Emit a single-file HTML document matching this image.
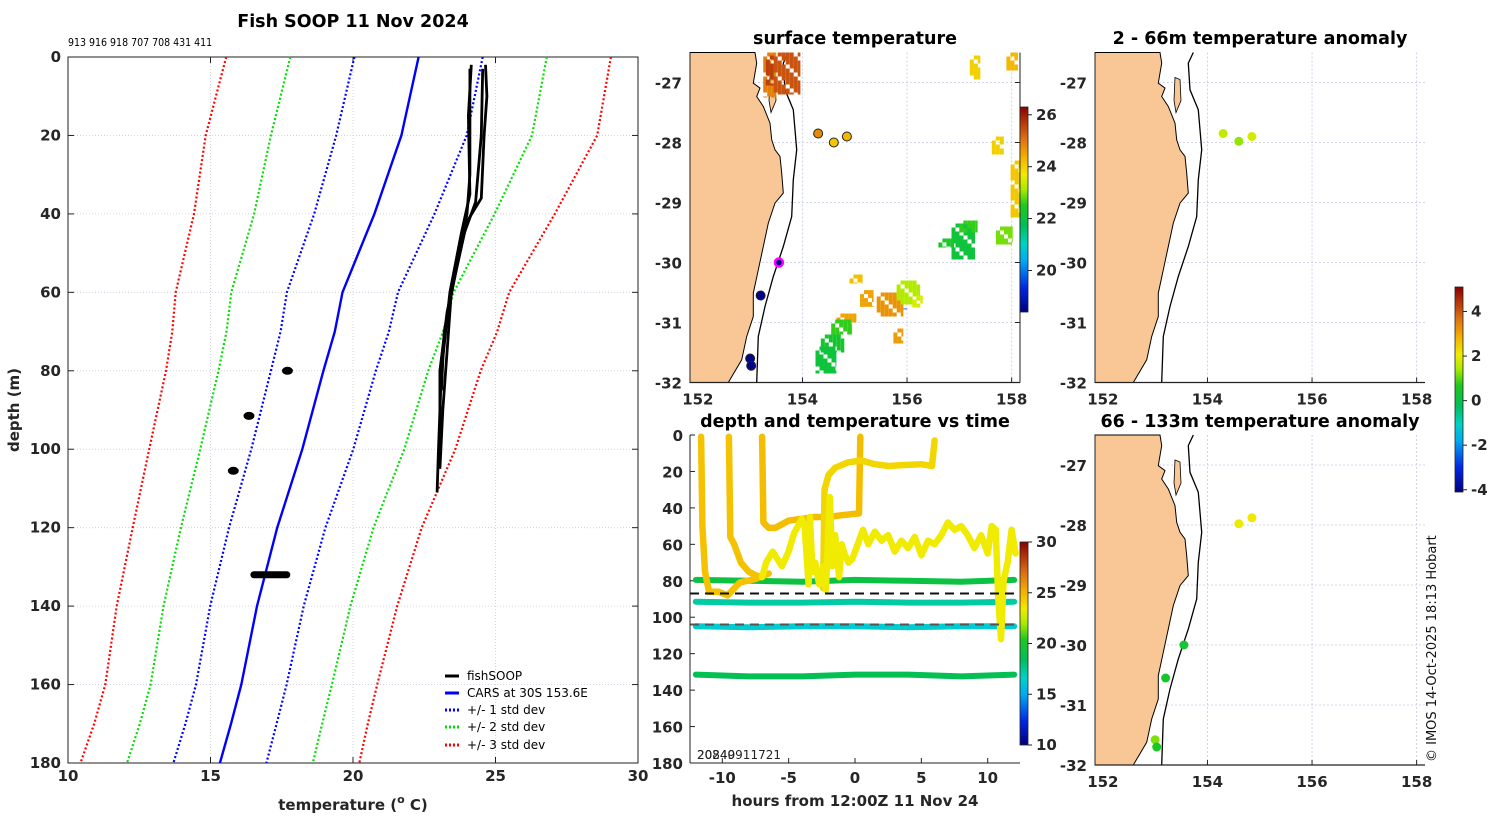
<!DOCTYPE html>
<html><head><meta charset="utf-8"><style>
html,body{margin:0;padding:0;background:#fff;}
svg{display:block;font-family:"DejaVu Sans","Liberation Sans",sans-serif;}
.tk{font-size:15px;font-weight:bold;fill:#262626;}
.tt{font-size:17.5px;font-weight:bold;fill:#000;}
</style></head><body>
<svg id="fig" width="1500" height="820" viewBox="0 0 1500 820" xmlns="http://www.w3.org/2000/svg">
<text class="tt" x="353" y="27" text-anchor="middle">Fish SOOP 11 Nov 2024</text>
<text x="68" y="46" font-size="10.5" font-family="DejaVu Sans Condensed, DejaVu Sans, sans-serif">913 916 918 707 708 431 411</text>
<text class="tk" x="353" y="810" text-anchor="middle" font-size="17.5">temperature (<tspan font-size="11" dy="-7">o</tspan><tspan dy="7"> C)</tspan></text>
<text class="tk" transform="translate(19,410) rotate(-90)" text-anchor="middle" font-size="17">depth (m)</text>
<text class="tt" x="855" y="44" text-anchor="middle">surface temperature</text>
<text class="tt" x="855" y="427" text-anchor="middle">depth and temperature vs time</text>
<text class="tk" x="855" y="806" text-anchor="middle" font-size="17">hours from 12:00Z 11 Nov 24</text>
<text class="tt" x="1260" y="44" text-anchor="middle">2 - 66m temperature anomaly</text>
<text class="tt" x="1260" y="427" text-anchor="middle">66 - 133m temperature anomaly</text>
<text transform="translate(1436,762) rotate(-90)" font-size="13" fill="#111">© IMOS 14-Oct-2025 18:13 Hobart</text>
<text x="697" y="759" font-size="12" fill="#222">20849</text>
<text x="697" y="759" font-size="12" fill="#222">20240911721</text>
<g id="legend">
<line x1="445" y1="676" x2="459" y2="676" stroke="#000" stroke-width="3"/>
<text x="467" y="680" font-size="12">fishSOOP</text>
<line x1="445" y1="693" x2="459" y2="693" stroke="#0000ff" stroke-width="3"/>
<text x="467" y="697" font-size="12">CARS at 30S 153.6E</text>
<line x1="445" y1="710" x2="459" y2="710" stroke="#0000ff" stroke-width="3" stroke-dasharray="2,2"/>
<text x="467" y="714" font-size="12">+/- 1 std dev</text>
<line x1="445" y1="727" x2="459" y2="727" stroke="#00e000" stroke-width="3" stroke-dasharray="2,2"/>
<text x="467" y="731" font-size="12">+/- 2 std dev</text>
<line x1="445" y1="745" x2="459" y2="745" stroke="#ff0000" stroke-width="3" stroke-dasharray="2,2"/>
<text x="467" y="749" font-size="12">+/- 3 std dev</text>
</g>
</svg>
<script>
// ---------- data ----------
const carsDepths=[0,20,40,60,70,80,100,120,140,160,170,180];
const carsMean=[22.3,21.7,20.75,19.63,19.36,18.96,18.22,17.34,16.63,16.08,15.72,15.33];
const carsSd=[2.25,2.29,2.11,1.95,1.9,1.84,1.79,1.69,1.64,1.59,1.6,1.63];
const fish1=[[2,24.15],[15,24.05],[35,24.1],[45,23.8],[60,23.4],[80,23.1],[100,23.0],[111,22.95]];
const fish2=[[2,24.65],[10,24.7],[20,24.6],[36,24.5],[42,24.0],[60,23.45],[75,23.3],[90,23.15],[105,23.05]];
const fish3=[[3,24.1],[30,24.1],[40,24.0],[55,23.6],[70,23.2],[85,23.1]];
const fish4=[[3,24.55],[20,24.5],[37,24.3],[45,23.9],[65,23.3],[80,23.05],[95,23.05]];
const fishBlobs=[[17.7,80],[16.35,91.5],[15.8,105.5]];
const fishBar=[16.4,17.8,132];
const tempTicks=[10,15,20,25,30];
const depthTicks=[0,20,40,60,80,100,120,140,160,180];
// map
const lonTicks=[152,154,156,158];
const latTicks=[-27,-28,-29,-30,-31,-32];
const coastPx=[[0,0],[65,0],[66.7,10.6],[63.3,30.6],[70,35.6],[66.7,44],[73.3,54],[80,70.6],[81.7,87.3],[85,97.3],[90,104],[91.7,120.6],[93.3,140.6],[85,150.6],[78.3,170.6],[73.3,194],[68.3,217.3],[63.3,240.6],[63.3,264],[56.7,284],[51.7,307.3],[38.3,330],[0,330]];
const islandPx=[[80,25],[85,27],[86,48],[81,60],[79,48]];
const shelfPx=[[98.3,0],[93.3,10.6],[95,37.3],[103.3,57.3],[106.7,97.3],[103.3,127.3],[101.7,164],[93.3,194],[83.3,224],[75,254],[68.3,284],[66.7,330]];
// SST patches [lon0,lon1,latTop,latBottom,temp]
const sstPatches=[[153.25,153.5,-26.5,-27.25,24.9],[153.45,153.96,-26.5,-27.2,25.4],[153.3,153.45,-26.55,-27.05,25.6],
[157.2,157.4,-26.55,-26.95,24.0],[157.9,158.12,-26.5,-26.8,24.3],[157.62,157.85,-27.9,-28.2,24.0],[157.98,158.15,-28.3,-29.25,24.1],
[156.85,157.3,-29.35,-29.95,22.1],[156.6,156.9,-29.6,-29.75,22.4],[157.7,158.02,-29.4,-29.7,22.9],[157.0,157.35,-29.3,-29.5,22.6],
[155.1,155.36,-30.46,-30.74,24.5],[155.42,155.93,-30.5,-30.9,24.7],[155.8,156.25,-30.3,-30.7,23.2],[154.65,155.04,-30.85,-31.0,24.5],
[154.55,154.95,-30.95,-31.2,22.6],[154.35,154.8,-31.2,-31.5,22.3],[154.25,154.65,-31.4,-31.85,22.1],[155.74,155.93,-31.1,-31.35,24.6],
[154.9,155.15,-30.2,-30.35,24.2],[156.1,156.3,-30.55,-30.75,23.5],[155.93,156.0,-30.7,-30.78,19.5]];
const sstDots=[[154.3,-27.85,24.8],[154.6,-28.0,24.1],[154.85,-27.9,24.3],[153.2,-30.55,18.5],[153.0,-31.6,18.5],[153.02,-31.72,18.5]];
const sstTrack=[153.55,-30.0,18.5];
const anomTopDots=[[154.3,-27.85,1.6],[154.6,-27.98,1.3],[154.85,-27.9,1.8]];
const anomBotDots=[[154.6,-27.98,2.0],[154.85,-27.88,2.1],[153.55,-30.0,0.4],[153.2,-30.55,0.5],[153.0,-31.58,1.2],[153.03,-31.7,0.6]];
// time plot
const hourTicks=[-10,-5,0,5,10];
const tDepthTicks=[0,20,40,60,80,100,120,140,160,180];
const trace1=[[-11.6,1],[-11.5,50],[-11.3,75],[-11.0,86],[-10.3,86],[-9.6,88],[-8.7,81],[-7.5,79],[-6.5,76]];
const trace2=[[-9.5,1],[-9.4,56],[-9.1,60],[-8.6,70],[-8.0,75],[-7.5,77],[-7.0,78]];
const trace3=[[-7.0,1],[-6.9,48],[-6.5,51],[-6,51],[-5,47],[-4,46],[-3,45],[-2,45],[-1,44],[0.3,43],[0.4,1]];
const trace4=[[-2.4,84],[-2.3,30],[-2.0,22],[-1.5,18],[-0.5,15],[0.5,14],[1.5,16],[2.5,17],[3.5,16.5],[5,16],[5.8,17],[6.0,3]];
const trace5=[[-7,78],[-6.7,70],[-6.2,64],[-5.5,72],[-5,64],[-4.6,54],[-4,46],[-3.8,50],[-3.5,82],[-3.4,45],[-3.2,75],[-3.0,70],[-2.7,82],[-2.4,72],[-2.2,85],[-1.9,34],[-1.7,72],[-1.5,55],[-1.2,78],[-1.0,60],[-0.8,65],[-0.5,70],[-0.2,68],[0.2,60],[0.6,52],[1.0,60],[1.5,53],[2.0,58],[2.5,55],[3,64],[3.5,58],[4,62],[4.5,56],[5,66],[5.5,58],[6,60],[6.5,55],[7,48],[7.5,52],[8,50],[8.5,55],[9,62],[9.5,55],[10,65],[10.3,50],[10.6,52],[10.8,90],[11.0,112],[11.2,80],[11.5,70],[11.8,52],[12.1,65]];
const traceTemps=[24.6,24.6,24.7,24.0,23.4];
const levelHours=[-12,-8,-4,0,4,8,12];
const level80=[79.5,80,80.5,79.5,80,80.5,79.5];
const level92=[91.5,92,92,91.5,92,92,91.5];
const level105=[105,105.5,105,105,105.5,105,105];
const level132=[131.5,132.5,132.5,131.5,131.5,132.5,131.5];
const levelTemps=[19.2,17.2,16.3,18.6];
const dashDepths=[87,104];

// ---------- helpers ----------
const NS='http://www.w3.org/2000/svg';
const svg=document.getElementById('fig');
function mk(tag,attrs,parent){const e=document.createElementNS(NS,tag);for(const k in attrs)e.setAttribute(k,attrs[k]);(parent||svg).appendChild(e);return e;}
const stops=[[0,[0,0,128]],[0.12,[0,40,230]],[0.25,[0,170,240]],[0.33,[0,210,200]],[0.42,[0,190,90]],[0.52,[30,200,30]],[0.6,[170,235,0]],[0.67,[240,235,0]],[0.75,[245,180,0]],[0.85,[220,110,20]],[1,[140,0,0]]];
function cmap(t){t=Math.max(0,Math.min(1,t));for(let i=1;i<stops.length;i++){if(t<=stops[i][0]){const a=stops[i-1],b=stops[i];const f=(t-a[0])/(b[0]-a[0]);const c=a[1].map((v,j)=>Math.round(v+(b[1][j]-v)*f));return 'rgb('+c.join(',')+')';}}return 'rgb(140,0,0)';}
const defs=mk('defs',{});
const grad=mk('linearGradient',{id:'cbar',x1:0,y1:1,x2:0,y2:0},defs);
for(const s of stops){mk('stop',{offset:s[0],'stop-color':cmap(s[0])},grad);}
function colorbar(x,y0,y1,lo,hi,ticks,name){
  const r=mk('rect',{x:x,y:y0,width:8,height:y1-y0,fill:'url(#cbar)',stroke:'#222','stroke-width':0.8});
  
  
  for(const t of ticks){const y=y1-(t-lo)/(hi-lo)*(y1-y0);
    mk('line',{x1:x+8,y1:y,x2:x+12,y2:y,stroke:'#222'});
    const tx=mk('text',{x:x+16,y:y+5,class:'tk','font-size':'12.5'});tx.textContent=t;
    
    }
}

// ---------- profile panel ----------
const PX0=68,PX1=638,PY0=57,PY1=763;
const xT=T=>PX0+(T-10)*(PX1-PX0)/20;
const yD=d=>PY0+d*(PY1-PY0)/180;
for(const t of tempTicks){const x=xT(t);
  if(t>10&&t<30)mk('line',{x1:x,y1:PY0,x2:x,y2:PY1,stroke:'#c9c9dd','stroke-width':0.8,'stroke-dasharray':'1,2'});
  mk('line',{x1:x,y1:PY1,x2:x,y2:PY1-6,stroke:'#222'});mk('line',{x1:x,y1:PY0,x2:x,y2:PY0+6,stroke:'#222'});
  const l=mk('text',{x:x,y:PY1+18,class:'tk','text-anchor':'middle'});l.textContent=t;
  
  }
for(const d of depthTicks){const y=yD(d);
  if(d>0&&d<180)mk('line',{x1:PX0,y1:y,x2:PX1,y2:y,stroke:'#c9c9dd','stroke-width':0.8,'stroke-dasharray':'1,2'});
  mk('line',{x1:PX0,y1:y,x2:PX0+6,y2:y,stroke:'#222'});mk('line',{x1:PX1,y1:y,x2:PX1-6,y2:y,stroke:'#222'});
  const l=mk('text',{x:PX0-7,y:y+5,class:'tk','text-anchor':'end'});l.textContent=d;
  
  }
const pbox=mk('rect',{x:PX0,y:PY0,width:PX1-PX0,height:PY1-PY0,fill:'none',stroke:'#222','stroke-width':1});


function profLine(k,color,dash,name){
  const pts=carsDepths.map((d,i)=>xT(carsMean[i]+k*carsSd[i]).toFixed(1)+','+yD(d).toFixed(1)).join(' ');
  const a={points:pts,fill:'none',stroke:color,'stroke-width':dash?2.2:2.4};if(dash)a['stroke-dasharray']='2,2.2';
  const p=mk('polyline',a);
  
  
}
profLine(-3,'#ff0000',1,'cars-minus-3sd');profLine(3,'#ff0000',1,'cars-plus-3sd');
profLine(-2,'#00e000',1,'cars-minus-2sd');profLine(2,'#00e000',1,'cars-plus-2sd');
profLine(-1,'#0000ff',1,'cars-minus-1sd');profLine(1,'#0000ff',1,'cars-plus-1sd');
profLine(0,'#0000ff',0,'cars-mean');
for(const f of [fish1,fish2,fish3,fish4]){
  const p=mk('polyline',{points:f.map(q=>xT(q[1]).toFixed(1)+','+yD(q[0]).toFixed(1)).join(' '),fill:'none',stroke:'#000','stroke-width':2.8,'stroke-linejoin':'round'});
  
  }
for(const b of fishBlobs){const e=mk('ellipse',{cx:xT(b[0]),cy:yD(b[1]),rx:5.5,ry:4,fill:'#000'});
  
  }
const fb=mk('rect',{x:xT(fishBar[0]),y:yD(fishBar[2])-3.5,width:xT(fishBar[1])-xT(fishBar[0]),height:7,rx:3.5,fill:'#000'});



// ---------- maps ----------
const MW=330,MH=330;
function map(x0,y0,name,showCbarEdge){
  const lx=lon=>x0+(lon-151.85)*52.3, ly=lat=>y0+(-26.5-lat)*60;
  const g=mk('g',{});
  
  
  for(const lo of lonTicks){const x=lx(lo);
    if(lo>152)mk('line',{x1:x,y1:y0,x2:x,y2:y0+MH,stroke:'#c4c8e4','stroke-width':0.8,'stroke-dasharray':'2,2'},g);
    mk('line',{x1:x,y1:y0+MH,x2:x,y2:y0+MH-5,stroke:'#222'},g);
    const l=mk('text',{x:x,y:y0+MH+22,class:'tk','text-anchor':'middle'},g);l.textContent=lo;
    
    }
  for(const la of latTicks){const y=ly(la);
    if(la>-32)mk('line',{x1:x0,y1:y,x2:x0+MH,y2:y,stroke:'#c4c8e4','stroke-width':0.8,'stroke-dasharray':'2,2'},g);
    if(showCbarEdge)mk('line',{x1:x0+MW,y1:y,x2:x0+MW-5,y2:y,stroke:'#222'},g);
    const l=mk('text',{x:x0-8,y:y+6,class:'tk','text-anchor':'end'},g);l.textContent=la;
    
    }
  const land=mk('polygon',{points:coastPx.map(p=>(x0+p[0])+','+(y0+p[1])).join(' '),fill:'#f9c796',stroke:'#000','stroke-width':1},g);
  
  
  const isl=mk('polygon',{points:islandPx.map(p=>(x0+p[0])+','+(y0+p[1])).join(' '),fill:'#f9c796',stroke:'#000','stroke-width':0.8},g);
  
  
  const sh=mk('polyline',{points:shelfPx.map(p=>(x0+p[0])+','+(y0+p[1])).join(' '),fill:'none',stroke:'#000','stroke-width':1.3},g);
  
  
  mk('line',{x1:x0,y1:y0+MH,x2:x0+MW,y2:y0+MH,stroke:'#222','stroke-width':1.2},g);
  mk('line',{x1:x0,y1:y0,x2:x0,y2:y0+MH,stroke:'#222','stroke-width':1},g);
  if(showCbarEdge)mk('line',{x1:x0+MW,y1:y0,x2:x0+MW,y2:y0+MH,stroke:'#222','stroke-width':1},g);
  return {lx,ly,g};
}
// SST map
const m1=map(690,52.5,'sst-map',true);
const sLo=18.4,sHi=26.3;
const CELL=4;
for(const p of sstPatches){
  const x0=m1.lx(p[0]),x1=m1.lx(p[1]),y0=m1.ly(p[2]),y1=m1.ly(p[3]);
  const col=cmap((p[4]-sLo)/(sHi-sLo));
  const pg=mk('g',{fill:col},m1.g);
  
  
  let i=0;
  for(let x=x0;x<x1-0.5;x+=CELL){let j=0;
    for(let y=y0;y<y1-0.5;y+=CELL){
      if((i*7+j*3)%5!==0){mk('rect',{x:x.toFixed(1),y:y.toFixed(1),width:Math.min(CELL,x1-x).toFixed(1),height:Math.min(CELL,y1-y).toFixed(1)},pg);}
      j++;}
    i++;}
}
for(const d of sstDots){const c=mk('circle',{cx:m1.lx(d[0]),cy:m1.ly(d[1]),r:4.5,fill:cmap((d[2]-sLo)/(sHi-sLo)),stroke:'#222','stroke-width':1},m1.g);
  
  }
const trk=mk('circle',{cx:m1.lx(sstTrack[0]),cy:m1.ly(sstTrack[1]),r:4,fill:cmap((sstTrack[2]-sLo)/(sHi-sLo)),stroke:'#ff00ff','stroke-width':2.5},m1.g);


colorbar(1020,107,312,sLo,sHi,[20,22,24,26],'sst-colorbar');
// anomaly maps
const aLo=-4.1,aHi=5.1;
const m2=map(1095,52.5,'anomaly-top-map',false);
for(const d of anomTopDots){const c=mk('circle',{cx:m2.lx(d[0]),cy:m2.ly(d[1]),r:4.5,fill:cmap((d[2]-aLo)/(aHi-aLo))},m2.g);
  
  }
const m3=map(1095,435,'anomaly-bottom-map',false);
for(const d of anomBotDots){const c=mk('circle',{cx:m3.lx(d[0]),cy:m3.ly(d[1]),r:4.5,fill:cmap((d[2]-aLo)/(aHi-aLo))},m3.g);
  
  }
colorbar(1455,287,492,aLo,aHi,[-4,-2,0,2,4],'anomaly-colorbar');

// ---------- time plot ----------
const TX0=690,TX1=1020,TY0=435,TY1=763;
const xH=h=>855+h*13.27;
const yT=d=>TY0+d*(TY1-TY0)/180;
const tLo=10,tHi=30;
for(const h of hourTicks){const x=xH(h);
  mk('line',{x1:x,y1:TY1,x2:x,y2:TY1-5,stroke:'#222'});
  const l=mk('text',{x:x,y:TY1+20,class:'tk','text-anchor':'middle'});l.textContent=h;
  
  }
for(const d of tDepthTicks){const y=yT(d);
  mk('line',{x1:TX0,y1:y,x2:TX0+5,y2:y,stroke:'#222'});
  const l=mk('text',{x:TX0-7,y:y+6,class:'tk','text-anchor':'end'});l.textContent=d;
  
  }
const levels=[level80,level92,level105,level132];
levels.forEach((lv,i)=>{const p=mk('polyline',{points:levelHours.map((h,j)=>xH(h).toFixed(1)+','+yT(lv[j]).toFixed(1)).join(' '),fill:'none',stroke:cmap((levelTemps[i]-tLo)/(tHi-tLo)),'stroke-width':6,'stroke-linecap':'round'});
  
  });
[trace1,trace2,trace3,trace4,trace5].forEach((tr,i)=>{const p=mk('polyline',{points:tr.map(q=>xH(q[0]).toFixed(1)+','+yT(q[1]).toFixed(1)).join(' '),fill:'none',stroke:cmap((traceTemps[i]-tLo)/(tHi-tLo)),'stroke-width':6.5,'stroke-linejoin':'round','stroke-linecap':'round'});
  
  });
dashDepths.forEach((d,i)=>{const l=mk('line',{x1:TX0,y1:yT(d),x2:TX1,y2:yT(d),stroke:i?'#555':'#111','stroke-width':2,'stroke-dasharray':'9,6'});
  
  });
mk('line',{x1:TX0,y1:TY0,x2:TX0,y2:TY1,stroke:'#222'});
mk('line',{x1:TX0,y1:TY1,x2:TX1,y2:TY1,stroke:'#222'});
colorbar(1020,542,745,tLo,tHi,[10,15,20,25,30],'time-colorbar');
for(const id of ['legend']){svg.appendChild(document.getElementById(id));}
</script>
</body></html>
